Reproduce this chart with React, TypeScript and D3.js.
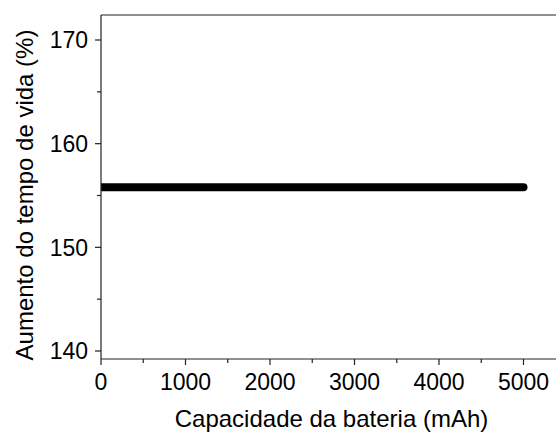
import React from "react";
import * as d3 from "d3";

const capacity = [0, 500, 1000, 1500, 2000, 2500, 3000, 3500, 4000, 4500, 5000];
const lifetimeIncrease = [155.8, 155.8, 155.8, 155.8, 155.8, 155.8, 155.8, 155.8, 155.8, 155.8, 155.8];
const xMajorTicks = [0, 1000, 2000, 3000, 4000, 5000];
const xMinorTicks = [500, 1500, 2500, 3500, 4500];
const yMajorTicks = [140, 150, 160, 170];
const yMinorTicks = [145, 155, 165];

const W = 556, H = 435;
const left = 101, right = 562, top = 15, bottom = 359;
const FONT = "'Liberation Sans', Arial, sans-serif";

export default function App() {
  const x = d3.scaleLinear().domain([0, 5000]).range([left, left + 5 * 84.5]);
  const y = d3.scaleLinear().domain([140, 170]).range([351, 40]);
  const line = d3.line<number>().x((_, i) => x(capacity[i])).y((d) => y(d));
  const axisColor = "#222";
  return (
    <svg width={W} height={H} style={{ position: "absolute", left: 0, top: 0 }} fontFamily={FONT}>
      <defs>
        <clipPath id="plot">
          <rect x={left} y={top} width={right - left} height={bottom - top} />
        </clipPath>
      </defs>
      <rect width={W} height={H} fill="#fff" />
      <path d={line(lifetimeIncrease) || ""} fill="none" stroke="#000" strokeWidth={8} strokeLinecap="round" clipPath="url(#plot)" />
      {/* frame */}
      <line x1={left} x2={right} y1={top} y2={top} stroke={axisColor} strokeWidth={1.2} />
      <line x1={left} x2={left} y1={top} y2={bottom} stroke={axisColor} strokeWidth={1.2} />
      <line x1={left} x2={right} y1={bottom} y2={bottom} stroke={axisColor} strokeWidth={1.2} />
      {yMajorTicks.map((t) => (
        <g key={"ym" + t}>
          <line x1={left - 6} x2={left} y1={y(t)} y2={y(t)} stroke={axisColor} strokeWidth={1.2} />
          <text x={left - 13} y={y(t)} dy="0.36em" textAnchor="end" fontSize={23} fill="#000">{t}</text>
        </g>
      ))}
      {yMinorTicks.map((t) => (
        <line key={"yn" + t} x1={left - 4} x2={left} y1={y(t)} y2={y(t)} stroke={axisColor} strokeWidth={1.2} />
      ))}
      {xMajorTicks.map((t) => (
        <g key={"xm" + t}>
          <line x1={x(t)} x2={x(t)} y1={bottom} y2={bottom + 6} stroke={axisColor} strokeWidth={1.2} />
          <text x={x(t)} y={390} textAnchor="middle" fontSize={23} fill="#000">{t}</text>
        </g>
      ))}
      {xMinorTicks.map((t) => (
        <line key={"xn" + t} x1={x(t)} x2={x(t)} y1={bottom} y2={bottom + 4} stroke={axisColor} strokeWidth={1.2} />
      ))}
      <text x={331.5} y={427} textAnchor="middle" fontSize={24} fill="#000">Capacidade da bateria (mAh)</text>
      <text transform={`translate(33,195) rotate(-90)`} textAnchor="middle" fontSize={24} fill="#000">Aumento do tempo de vida (%)</text>
    </svg>
  );
}
